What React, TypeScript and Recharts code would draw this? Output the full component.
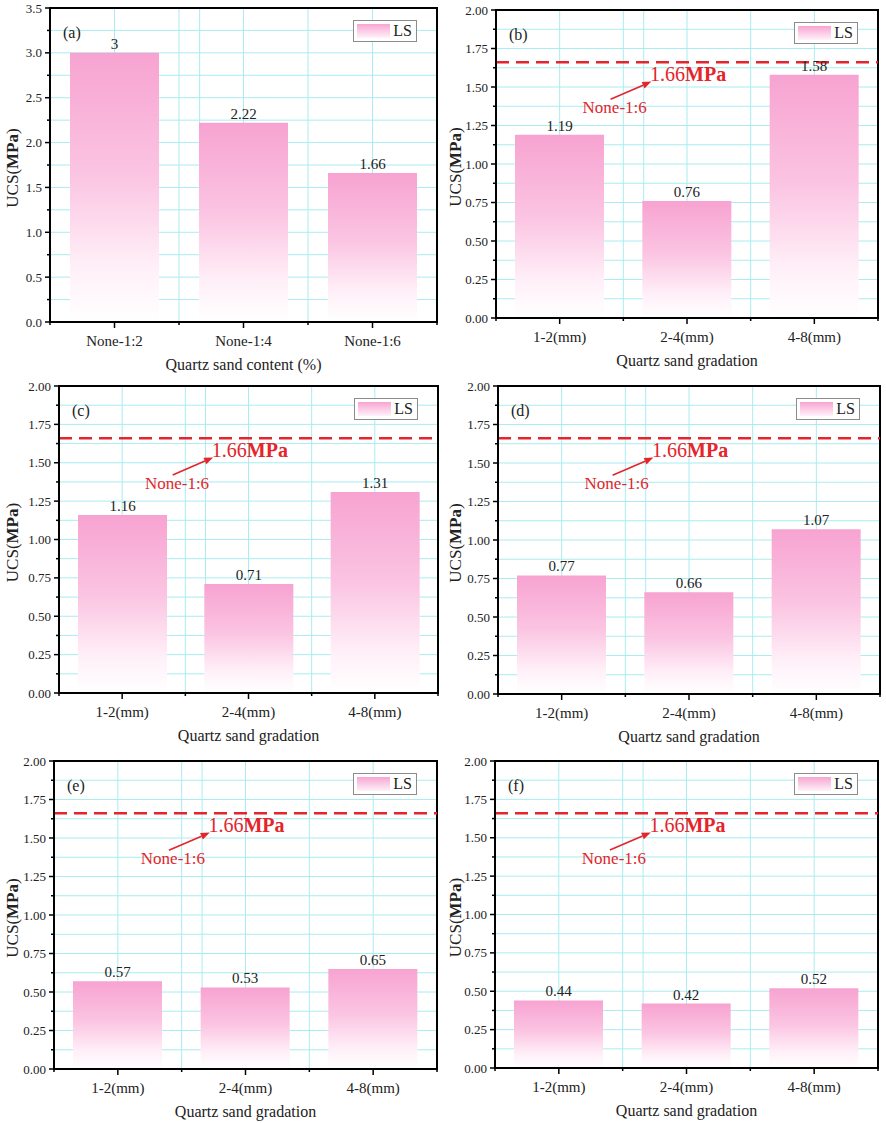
import React from "react";
import {
  BarChart,
  Bar,
  XAxis,
  YAxis,
  CartesianGrid,
  ReferenceLine,
  ReferenceDot,
  ReferenceArea,
  LabelList,
  Legend,
} from "recharts";

const FONT = '"Liberation Serif", "Times New Roman", serif';
const RED = "#e4252b";
const GRID = "#a9ecf1";

// categories
const contentCats = ["None-1:2", "None-1:4", "None-1:6"];
const gradationCats = ["1-2(mm)", "2-4(mm)", "4-8(mm)"];

// UCS values (MPa) per panel
const ucsA = [3, 2.22, 1.66];
const ucsB = [1.19, 0.76, 1.58];
const ucsC = [1.16, 0.71, 1.31];
const ucsD = [0.77, 0.66, 1.07];
const ucsE = [0.57, 0.53, 0.65];
const ucsF = [0.44, 0.42, 0.52];

// axis ticks
const majorTicksA = [0, 0.5, 1, 1.5, 2, 2.5, 3, 3.5];
const majorTicksB = [0, 0.25, 0.5, 0.75, 1, 1.25, 1.5, 1.75, 2];
const xTickPos = [0.5, 1, 1.5, 2, 2.5, 3, 3.5];
const xGridPos = [1, 1.5, 1.66, 2, 2.5, 3];

// reference level (None-1:6)
const refLevel = 1.66;
const refValueText = "1.66";
const refUnitText = "MPa";
const refNameText = "None-1:6";

const withMinors = (major: number[]) => {
  const out: number[] = [];
  major.forEach((v, i) => {
    out.push(v);
    if (i < major.length - 1) out.push((v + major[i + 1]) / 2);
  });
  return out;
};

const isMultiple = (v: number, step: number) =>
  Math.abs(v / step - Math.round(v / step)) < 1e-6;

function YTick(props: any) {
  const { x, y, payload, step, dec } = props;
  const v = payload.value;
  const major = isMultiple(v, step);
  return (
    <g>
      <line x1={x} x2={x - (major ? 5 : 3)} y1={y} y2={y} stroke="#000" strokeWidth={1.5} />
      {major && (
        <text x={x - 8} y={y} dy={4.5} textAnchor="end" fontSize={13} fontFamily={FONT} fill="#222">
          {v.toFixed(dec)}
        </text>
      )}
    </g>
  );
}

function XTick(props: any) {
  const { x, y, payload, cats } = props;
  const v = payload.value;
  const major = isMultiple(v, 1);
  return (
    <g>
      <line x1={x} x2={x} y1={y} y2={y + (major ? 6 : 3)} stroke="#000" strokeWidth={1.5} />
      {major && (
        <text x={x} y={y + 24} textAnchor="middle" fontSize={15} fontFamily={FONT} fill="#222">
          {cats[Math.round(v) - 1]}
        </text>
      )}
    </g>
  );
}

function YTitle({ viewBox }: any) {
  const cx = viewBox.x + 18;
  const cy = viewBox.y + viewBox.height / 2 + 3;
  return (
    <text
      x={cx}
      y={cy}
      transform={`rotate(-90 ${cx} ${cy})`}
      textAnchor="middle"
      fontSize={17}
      fontFamily={FONT}
      fill="#222"
    >
      UCS(<tspan fontWeight="bold">MPa</tspan>)
    </text>
  );
}

function LegendBox(props: any) {
  const items = props.payload || [];
  return (
    <div
      style={{
        display: "inline-flex",
        alignItems: "center",
        border: "1px solid #8c8c8c",
        background: "#fff",
        padding: "1px 4px 1px 3px",
        fontFamily: FONT,
        fontSize: 16,
        lineHeight: "18px",
        color: "#222",
      }}
    >
      {items.map((it: any) => (
        <React.Fragment key={it.value}>
          <span
            style={{
              display: "inline-block",
              width: 33,
              height: 14,
              marginRight: 3,
              background: "linear-gradient(#f8a5d2, #fff2f9)",
            }}
          />
          <span>{it.value}</span>
        </React.Fragment>
      ))}
    </div>
  );
}

function Arrow(props: any) {
  const { x1, y1, x2, y2 } = props;
  const a = Math.atan2(y2 - y1, x2 - x1);
  const len = 9;
  const w = 3.5;
  const bx = x2 - len * Math.cos(a);
  const by = y2 - len * Math.sin(a);
  const pts = [
    [x2, y2],
    [bx + w * Math.sin(a), by - w * Math.cos(a)],
    [bx - w * Math.sin(a), by + w * Math.cos(a)],
  ]
    .map((p) => p.join(","))
    .join(" ");
  return (
    <g>
      <line x1={x1} y1={y1} x2={bx} y2={by} stroke={RED} strokeWidth={1.6} />
      <polygon points={pts} fill={RED} />
    </g>
  );
}

type PanelProps = {
  id: string;
  tag: string;
  values: number[];
  cats: string[];
  xTitle: string;
  majorTicks: number[];
  step: number;
  dec: number;
  showRef: boolean;
  box: { left: number; top: number };
  yW: number;
  mr: number;
  mt: number;
  pb: number;
};

const W = 443;
const H = 375;

function Panel(p: PanelProps) {
  const data = p.values.map((v, i) => ({ x: i + 1, v, name: p.cats[i] }));
  const yMax = p.majorTicks[p.majorTicks.length - 1];
  const gid = `pink-${p.id}`;
  return (
    <div style={{ position: "absolute", left: p.box.left, top: p.box.top }}>
      <BarChart width={W} height={H} data={data} margin={{ top: p.mt, right: p.mr, left: 0, bottom: 0 }}>
        <defs>
          <linearGradient id={gid} x1="0" y1="0" x2="0" y2="1">
            <stop offset="0" stopColor="#f7a3d1" />
            <stop offset="0.45" stopColor="#fbc4e2" />
            <stop offset="0.8" stopColor="#fff0f8" />
            <stop offset="1" stopColor="#ffffff" />
          </linearGradient>
        </defs>
        <CartesianGrid stroke={GRID} strokeWidth={1} verticalValues={xGridPos} />
        <XAxis
          type="number"
          dataKey="x"
          domain={[0.5, 3.5]}
          allowDataOverflow
          ticks={xTickPos}
          interval={0}
          height={H - p.pb}
          tickSize={0}
          tickMargin={0}
          axisLine={{ stroke: "#000", strokeWidth: 2 }}
          tick={(tp: any) => <XTick {...tp} cats={p.cats} />}
          label={{
            content: (lp: any) => (
              <text
                x={lp.viewBox.x + lp.viewBox.width / 2}
                y={lp.viewBox.y + 48}
                textAnchor="middle"
                fontSize={16}
                fontFamily={FONT}
                fill="#222"
              >
                {p.xTitle}
              </text>
            ),
          }}
        />
        <YAxis
          type="number"
          domain={[0, yMax]}
          allowDataOverflow
          ticks={withMinors(p.majorTicks)}
          interval={0}
          width={p.yW}
          tickSize={0}
          tickMargin={0}
          axisLine={{ stroke: "#000", strokeWidth: 2 }}
          tick={(tp: any) => <YTick {...tp} step={p.step} dec={p.dec} />}
          label={{ content: (lp: any) => <YTitle viewBox={lp.viewBox} /> }}
        />
        <Legend
          layout="horizontal"
          verticalAlign="middle"
          align="center"
          wrapperStyle={{ top: p.mt + 12, right: p.mr + 20, width: "auto" }}
          content={(lp: any) => <LegendBox {...lp} />}
        />
        <Bar dataKey="v" name="LS" fill={`url(#${gid})`} barSize={89} isAnimationActive={false}>
          <LabelList dataKey="v" position="top" offset={4} fontSize={15} fontFamily={FONT} fill="#222" />
        </Bar>
        {p.showRef && (
          <ReferenceLine y={refLevel} stroke={RED} strokeWidth={2.5} strokeDasharray="13 7" />
        )}
        {p.showRef && (
          <ReferenceLine
            segment={[
              { x: 1.4, y: 1.42 },
              { x: 1.72, y: 1.535 },
            ]}
            ifOverflow="visible"
            shape={(sp: any) => <Arrow {...sp} />}
          />
        )}
        {p.showRef && (
          <ReferenceDot
            x={1.71}
            y={1.54}
            r={0}
            ifOverflow="visible"
            shape={(dp: any) => (
              <text x={dp.cx} y={dp.cy} fontSize={20} fontFamily={FONT} fill={RED}>
                {refValueText}
                <tspan fontWeight="bold">{refUnitText}</tspan>
              </text>
            )}
          />
        )}
        {p.showRef && (
          <ReferenceDot
            x={1.18}
            y={1.33}
            r={0}
            ifOverflow="visible"
            shape={(dp: any) => (
              <text x={dp.cx} y={dp.cy} fontSize={17} fontFamily={FONT} fill={RED}>
                {refNameText}
              </text>
            )}
          />
        )}
        <ReferenceDot
          x={0.5}
          y={yMax}
          r={0}
          ifOverflow="visible"
          shape={(dp: any) => (
            <text x={dp.cx + 13} y={dp.cy + 30} fontSize={16} fontFamily={FONT} fill="#222">
              {p.tag}
            </text>
          )}
        />
        <ReferenceArea
          x1={0.5}
          x2={3.5}
          y1={0}
          y2={yMax}
          fill="none"
          fillOpacity={0}
          stroke="#000"
          strokeWidth={2}
          ifOverflow="visible"
        />
      </BarChart>
    </div>
  );
}

export default function App() {
  const gradTitle = "Quartz sand gradation";
  return (
    <div style={{ position: "absolute", left: 0, top: 0, width: 886, height: 1123, background: "#fff" }}>
      <Panel id="a" tag="(a)" values={ucsA} cats={contentCats} xTitle="Quartz sand content (%)"
        majorTicks={majorTicksA} step={0.5} dec={1} showRef={false}
        box={{ left: 0, top: 0 }} yW={50} mr={6} mt={8} pb={322} />
      <Panel id="b" tag="(b)" values={ucsB} cats={gradationCats} xTitle={gradTitle}
        majorTicks={majorTicksB} step={0.25} dec={2} showRef
        box={{ left: 443, top: 0 }} yW={53} mr={8} mt={10} pb={318} />
      <Panel id="c" tag="(c)" values={ucsC} cats={gradationCats} xTitle={gradTitle}
        majorTicks={majorTicksB} step={0.25} dec={2} showRef
        box={{ left: 0, top: 375 }} yW={59} mr={5} mt={11} pb={318} />
      <Panel id="d" tag="(d)" values={ucsD} cats={gradationCats} xTitle={gradTitle}
        majorTicks={majorTicksB} step={0.25} dec={2} showRef
        box={{ left: 443, top: 375 }} yW={55} mr={6} mt={11} pb={319} />
      <Panel id="e" tag="(e)" values={ucsE} cats={gradationCats} xTitle={gradTitle}
        majorTicks={majorTicksB} step={0.25} dec={2} showRef
        box={{ left: 0, top: 750 }} yW={54} mr={6} mt={11} pb={319} />
      <Panel id="f" tag="(f)" values={ucsF} cats={gradationCats} xTitle={gradTitle}
        majorTicks={majorTicksB} step={0.25} dec={2} showRef
        box={{ left: 443, top: 750 }} yW={52} mr={8} mt={11} pb={318} />
    </div>
  );
}
